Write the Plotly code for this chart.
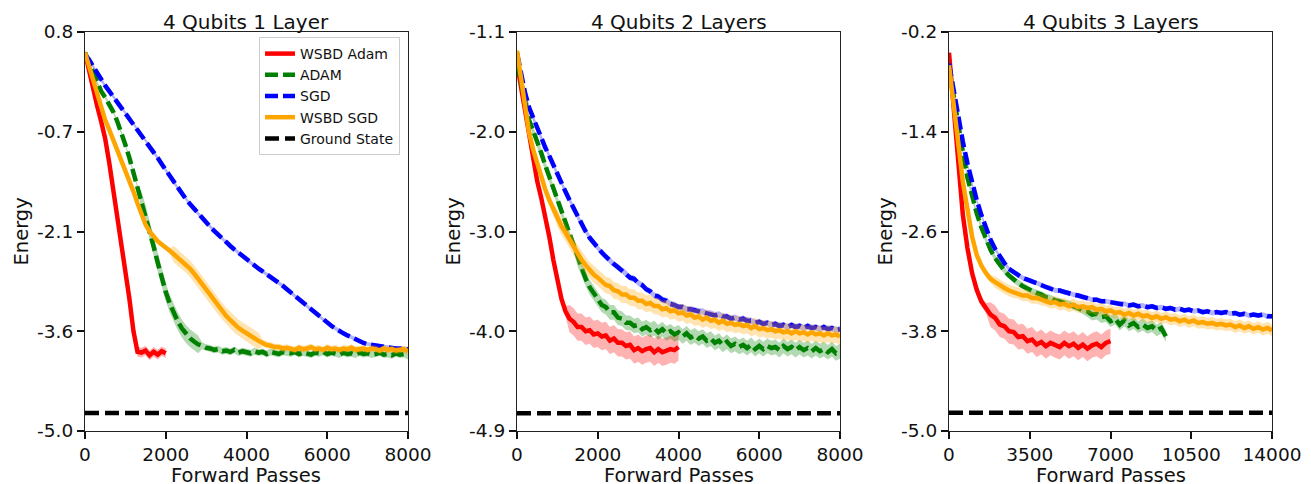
import plotly.graph_objects as go

# ---------------- data ----------------
TITLES = ["4 Qubits 1 Layer", "4 Qubits 2 Layers", "4 Qubits 3 Layers"]
SERIES = ["WSBD Adam", "ADAM", "SGD", "WSBD SGD", "Ground State"]
X_LABEL = "Forward Passes"
Y_LABEL = "Energy"
GROUND = [-4.74, -4.73, -4.78]

X_RANGE = [[0, 8000], [0, 8000], [0, 14000]]
X_TICKS = [[0, 2000, 4000, 6000, 8000], [0, 2000, 4000, 6000, 8000], [0, 3500, 7000, 10500, 14000]]
X_TICKTEXT = [["0", "2000", "4000", "6000", "8000"], ["0", "2000", "4000", "6000", "8000"],
              ["0", "3500", "7000", "10500", "14000"]]
Y_RANGE = [[-5.0, 0.8], [-4.9, -1.1], [-5.0, -0.2]]
Y_TICKS = [[-5.0, -3.55, -2.1, -0.65, 0.8], [-4.9, -3.95, -3.0, -2.05, -1.1], [-5.0, -3.8, -2.6, -1.4, -0.2]]
Y_TICKTEXT = [["-5.0", "-3.6", "-2.1", "-0.7", "0.8"], ["-4.9", "-4.0", "-3.0", "-2.0", "-1.1"],
              ["-5.0", "-3.8", "-2.6", "-1.4", "-0.2"]]

# Panel 1 (sampled every 100 forward passes)
P1_X = list(range(0, 8001, 100))
P1_RED = [0.50, 0.22, -0.02, -0.27, -0.50, -0.75, -1.10, -1.48, -1.85, -2.25, -2.62, -3.08, -3.55,
          -3.85, -3.86, -3.83, -3.90, -3.85, -3.89, -3.84, -3.87]
P1_GREEN = [0.50, 0.35, 0.20, 0.06, -0.06, -0.15, -0.25, -0.36, -0.50, -0.66,
            -0.84, -1.03, -1.24, -1.45, -1.65, -1.85, -2.08, -2.32, -2.55, -2.78,
            -2.98, -3.15, -3.29, -3.41, -3.51, -3.59, -3.65, -3.70, -3.74, -3.76,
            -3.79, -3.80, -3.82, -3.81, -3.84, -3.83, -3.85, -3.82, -3.86, -3.84,
            -3.85, -3.87, -3.84, -3.86, -3.85, -3.88, -3.85, -3.86, -3.88, -3.85,
            -3.86, -3.87, -3.85, -3.88, -3.86, -3.87, -3.89, -3.86, -3.87, -3.85,
            -3.88, -3.86, -3.87, -3.89, -3.86, -3.88, -3.87, -3.89, -3.86, -3.88,
            -3.87, -3.89, -3.88, -3.86, -3.89, -3.88, -3.90, -3.87, -3.89, -3.88, -3.91]
P1_BLUE = [0.47, 0.40, 0.30, 0.20, 0.10, 0.02, -0.06, -0.14, -0.22, -0.30,
           -0.38, -0.46, -0.53, -0.61, -0.69, -0.77, -0.85, -0.94, -1.03, -1.12,
           -1.21, -1.30, -1.39, -1.47, -1.55, -1.63, -1.70, -1.77, -1.84, -1.91,
           -1.97, -2.03, -2.09, -2.15, -2.20, -2.26, -2.31, -2.36, -2.41, -2.46,
           -2.51, -2.55, -2.60, -2.64, -2.68, -2.72, -2.76, -2.80, -2.85, -2.89,
           -2.94, -2.99, -3.03, -3.08, -3.13, -3.18, -3.23, -3.28, -3.33, -3.38,
           -3.43, -3.47, -3.51, -3.55, -3.58, -3.61, -3.64, -3.67, -3.70, -3.72,
           -3.74, -3.75, -3.76, -3.77, -3.78, -3.79, -3.79, -3.80, -3.80, -3.81, -3.81]
P1_ORANGE = [0.50, 0.30, 0.10, -0.12, -0.33, -0.48, -0.62, -0.77, -0.90, -1.04,
             -1.19, -1.35, -1.52, -1.69, -1.86, -2.00, -2.10, -2.18, -2.24, -2.29,
             -2.33, -2.38, -2.43, -2.48, -2.53, -2.58, -2.64, -2.71, -2.79, -2.87,
             -2.95, -3.03, -3.11, -3.19, -3.26, -3.33, -3.39, -3.45, -3.50, -3.54,
             -3.58, -3.62, -3.66, -3.69, -3.72, -3.75, -3.76, -3.78, -3.78, -3.80,
             -3.79, -3.80, -3.82, -3.79, -3.81, -3.80, -3.78, -3.81, -3.80, -3.82,
             -3.79, -3.81, -3.80, -3.82, -3.80, -3.81, -3.79, -3.82, -3.81, -3.80,
             -3.82, -3.80, -3.81, -3.83, -3.80, -3.82, -3.81, -3.83, -3.82, -3.81, -3.84]
P1_RED_BAND = [0.04] * 13 + [0.07] * 8
P1_GREEN_BAND = [0.03] * 14 + [0.13] * 15 + [0.05] * 52
P1_BLUE_BAND = [0.03] * 81
P1_ORANGE_BAND = [0.04] * 22 + [0.12] * 22 + [0.05] * 37

# Panel 2 (sampled every 100 forward passes)
P2_X = list(range(0, 8001, 100))
P2_RED = [-1.40, -1.62, -1.85, -2.12, -2.32, -2.52, -2.68, -2.85, -3.05, -3.27,
          -3.47, -3.64, -3.76, -3.83, -3.86, -3.91, -3.91, -3.95, -3.94, -3.98,
          -3.97, -4.00, -3.99, -4.04, -4.02, -4.06, -4.06, -4.09, -4.08, -4.13,
          -4.11, -4.14, -4.12, -4.11, -4.15, -4.12, -4.15, -4.14, -4.12, -4.13, -4.10]
P2_GREEN = [-1.40, -1.58, -1.78, -1.94, -2.04, -2.14, -2.25, -2.37, -2.48, -2.59,
            -2.70, -2.81, -2.92, -3.04, -3.15, -3.26, -3.36, -3.45, -3.53, -3.59,
            -3.64, -3.70, -3.72, -3.77, -3.77, -3.82, -3.83, -3.87, -3.87, -3.90,
            -3.89, -3.93, -3.91, -3.94, -3.92, -3.96, -3.93, -3.97, -3.95, -3.98,
            -3.96, -4.00, -3.97, -4.01, -3.99, -4.02, -4.00, -4.04, -4.02, -4.06,
            -4.04, -4.08, -4.05, -4.09, -4.07, -4.10, -4.08, -4.11, -4.08, -4.12,
            -4.09, -4.12, -4.09, -4.11, -4.10, -4.13, -4.09, -4.12, -4.10, -4.13,
            -4.10, -4.13, -4.11, -4.14, -4.11, -4.14, -4.12, -4.15, -4.12, -4.16, -4.14]
P2_BLUE = [-1.30, -1.50, -1.68, -1.82, -1.92, -2.02, -2.11, -2.20, -2.28, -2.37,
           -2.45, -2.54, -2.62, -2.70, -2.78, -2.86, -2.93, -3.00, -3.06, -3.11,
           -3.16, -3.20, -3.24, -3.28, -3.31, -3.34, -3.37, -3.40, -3.44, -3.45,
           -3.49, -3.51, -3.55, -3.57, -3.61, -3.62, -3.65, -3.66, -3.69, -3.70,
           -3.72, -3.72, -3.74, -3.74, -3.75, -3.76, -3.76, -3.78, -3.78, -3.80,
           -3.79, -3.81, -3.81, -3.83, -3.82, -3.84, -3.83, -3.85, -3.85, -3.87,
           -3.86, -3.88, -3.87, -3.89, -3.88, -3.90, -3.89, -3.91, -3.89, -3.91,
           -3.90, -3.92, -3.90, -3.92, -3.91, -3.93, -3.91, -3.93, -3.92, -3.94, -3.93]
P2_ORANGE = [-1.28, -1.55, -1.85, -2.06, -2.22, -2.36, -2.48, -2.60, -2.70, -2.79,
             -2.87, -2.95, -3.01, -3.08, -3.15, -3.21, -3.27, -3.32, -3.37, -3.41,
             -3.44, -3.47, -3.51, -3.52, -3.56, -3.57, -3.60, -3.60, -3.63, -3.63,
             -3.66, -3.66, -3.69, -3.68, -3.71, -3.71, -3.74, -3.73, -3.76, -3.75,
             -3.78, -3.77, -3.80, -3.79, -3.82, -3.81, -3.84, -3.82, -3.85, -3.84,
             -3.87, -3.85, -3.88, -3.87, -3.89, -3.88, -3.90, -3.89, -3.92, -3.90,
             -3.93, -3.92, -3.94, -3.93, -3.95, -3.94, -3.96, -3.95, -3.97, -3.95,
             -3.97, -3.96, -3.98, -3.96, -3.98, -3.97, -3.99, -3.97, -3.99, -3.98, -4.00]
P2_RED_BAND = [0.05] * 13 + [0.13] * 28
P2_GREEN_BAND = [0.04] * 15 + [0.07] * 66
P2_BLUE_BAND = [0.03] * 81
P2_ORANGE_BAND = [0.05] * 10 + [0.08] * 71

# Panel 3 (sampled every 200 forward passes)
P3_X = list(range(0, 14001, 200))
P3_RED = [-0.45, -1.15, -1.80, -2.40, -2.80, -3.10, -3.30, -3.44, -3.52, -3.60,
          -3.64, -3.72, -3.74, -3.80, -3.81, -3.87, -3.86, -3.92, -3.90, -3.96,
          -3.93, -3.98, -3.94, -3.97, -3.99, -3.94, -3.98, -3.95, -4.00, -3.96,
          -4.01, -3.97, -3.95, -3.99, -3.94, -3.92]
P3_GREEN = [-0.62, -0.98, -1.30, -1.65, -1.95, -2.18, -2.38, -2.55, -2.70, -2.82,
            -2.92, -3.00, -3.07, -3.13, -3.18, -3.22, -3.26, -3.29, -3.32, -3.34,
            -3.36, -3.39, -3.40, -3.43, -3.44, -3.46, -3.47, -3.50, -3.52, -3.55,
            -3.56, -3.60, -3.59, -3.63, -3.62, -3.68, -3.65, -3.72, -3.67, -3.73,
            -3.70, -3.75, -3.72, -3.76, -3.74, -3.79, -3.76, -3.86]
P3_BLUE = [-0.58, -0.90, -1.22, -1.52, -1.78, -2.02, -2.22, -2.40, -2.56, -2.70,
           -2.81, -2.90, -2.98, -3.05, -3.09, -3.13, -3.16, -3.18, -3.20, -3.22,
           -3.24, -3.27, -3.28, -3.31, -3.31, -3.33, -3.34, -3.36, -3.37, -3.39,
           -3.40, -3.42, -3.42, -3.44, -3.44, -3.45, -3.46, -3.47, -3.47, -3.49,
           -3.48, -3.50, -3.49, -3.51, -3.50, -3.52, -3.51, -3.53, -3.52, -3.54,
           -3.53, -3.55, -3.54, -3.56, -3.55, -3.57, -3.56, -3.58, -3.57, -3.58,
           -3.57, -3.59, -3.58, -3.60, -3.59, -3.61, -3.60, -3.61, -3.60, -3.62, -3.62]
P3_ORANGE = [-0.60, -1.10, -1.58, -2.00, -2.33, -2.66, -2.88, -3.01, -3.10, -3.17,
             -3.21, -3.25, -3.28, -3.31, -3.33, -3.34, -3.37, -3.37, -3.40, -3.40,
             -3.42, -3.43, -3.46, -3.45, -3.48, -3.47, -3.50, -3.48, -3.51, -3.50,
             -3.52, -3.51, -3.54, -3.53, -3.56, -3.55, -3.58, -3.57, -3.60, -3.58,
             -3.61, -3.59, -3.62, -3.61, -3.64, -3.62, -3.65, -3.63, -3.66, -3.65,
             -3.68, -3.66, -3.69, -3.67, -3.70, -3.69, -3.71, -3.70, -3.72, -3.71,
             -3.73, -3.72, -3.75, -3.73, -3.76, -3.74, -3.77, -3.75, -3.78, -3.76, -3.79]
P3_RED_BAND = [0.06] * 9 + [0.15] * 27
P3_GREEN_BAND = [0.04] * 30 + [0.07] * 18
P3_BLUE_BAND = [0.03] * 71
P3_ORANGE_BAND = [0.05] * 10 + [0.07] * 61

PANELS = [
    (P1_X, [(P1_RED, P1_RED_BAND), (P1_GREEN, P1_GREEN_BAND), (P1_BLUE, P1_BLUE_BAND), (P1_ORANGE, P1_ORANGE_BAND)]),
    (P2_X, [(P2_RED, P2_RED_BAND), (P2_GREEN, P2_GREEN_BAND), (P2_BLUE, P2_BLUE_BAND), (P2_ORANGE, P2_ORANGE_BAND)]),
    (P3_X, [(P3_RED, P3_RED_BAND), (P3_GREEN, P3_GREEN_BAND), (P3_BLUE, P3_BLUE_BAND), (P3_ORANGE, P3_ORANGE_BAND)]),
]

# ---------------- styles ----------------
COLORS = ["#ff0000", "#008000", "#0000ff", "#ffa500", "#000000"]
BAND_COLORS = ["rgba(255,0,0,0.3)", "rgba(0,128,0,0.3)", "rgba(0,0,255,0.3)", "rgba(255,165,0,0.3)"]
DASHES = ["solid", "13px,5px", "13px,5px", "solid", "14px,6px"]
FONT = "DejaVu Sans"
OFF = 8                       # page body margin of the written html
W, H = 1311 - OFF, 484 - OFF  # figure size so that it fills the window
X_PIX = [[85 - OFF, 408 - OFF], [517 - OFF, 840 - OFF], [949 - OFF, 1272 - OFF]]
TOP_PIX, BOT_PIX = 32 - OFF, 431 - OFF
X_DOMAINS = [[a / W, b / W] for a, b in X_PIX]
Y_DOMAIN = [(H - BOT_PIX) / H, (H - TOP_PIX) / H]

fig = go.Figure()
for p, (xs_all, series) in enumerate(PANELS):
    xa = "x" if p == 0 else f"x{p + 1}"
    ya = "y" if p == 0 else f"y{p + 1}"
    for s, (ys, band) in enumerate(series):
        xs = xs_all[:len(ys)]
        upper = [v + b for v, b in zip(ys, band)]
        lower = [v - b for v, b in zip(ys, band)]
        fig.add_trace(go.Scatter(
            x=xs + xs[::-1], y=upper + lower[::-1], fill="toself",
            fillcolor=BAND_COLORS[s], line=dict(width=0), mode="lines",
            hoverinfo="skip", showlegend=False, xaxis=xa, yaxis=ya))
        fig.add_trace(go.Scatter(
            x=xs, y=ys, mode="lines", name=SERIES[s],
            line=dict(color=COLORS[s], width=4.5, dash=DASHES[s]),
            showlegend=(p == 0), legendrank=s + 1, xaxis=xa, yaxis=ya))
    fig.add_trace(go.Scatter(
        x=X_RANGE[p], y=[GROUND[p], GROUND[p]], mode="lines", name=SERIES[4],
        line=dict(color=COLORS[4], width=4.5, dash=DASHES[4]),
        showlegend=(p == 0), legendrank=5, xaxis=xa, yaxis=ya))

axis_common = dict(showline=True, mirror=True, linecolor="#222222", linewidth=1.2,
                   ticks="outside", ticklen=7, tickwidth=1.6, tickcolor="#111111",
                   showgrid=False, zeroline=False, automargin=False,
                   tickfont=dict(family=FONT, size=18.5, color="#111111"))
annotations = []
for p in range(3):
    cx = sum(X_DOMAINS[p]) / 2
    annotations.append(dict(text=TITLES[p], x=cx, y=1, xref="paper", yref="paper",
                            xanchor="center", yanchor="top", showarrow=False,
                            font=dict(family=FONT, size=20, color="#111111")))
    annotations.append(dict(text=X_LABEL, x=cx, y=0, xref="paper", yref="paper",
                            xanchor="center", yanchor="bottom", yshift=-5, showarrow=False,
                            font=dict(family=FONT, size=19.5, color="#111111")))
    annotations.append(dict(text=Y_LABEL, x=(X_PIX[p][0] - 64) / W, y=sum(Y_DOMAIN) / 2,
                            xref="paper", yref="paper", xanchor="center", yanchor="middle",
                            textangle=-90, showarrow=False,
                            font=dict(family=FONT, size=19.5, color="#111111")))

layout = dict(width=W, height=H, margin=dict(l=0, r=0, t=0, b=0),
              paper_bgcolor="white", plot_bgcolor="white",
              font=dict(family=FONT, color="#111111"),
              legend=dict(x=(400 - OFF) / W, xanchor="right", y=(H - (37 - OFF)) / H, yanchor="top",
                          bgcolor="rgba(255,255,255,0.85)", bordercolor="#cccccc", borderwidth=1,
                          font=dict(family=FONT, size=14, color="#111111"),
                          tracegroupgap=0, itemwidth=30),
              annotations=annotations, showlegend=True)
for p in range(3):
    sx = "" if p == 0 else str(p + 1)
    layout["xaxis" + sx] = dict(axis_common, domain=X_DOMAINS[p], anchor="y" + sx,
                                range=X_RANGE[p], tickvals=X_TICKS[p], ticktext=X_TICKTEXT[p])
    layout["yaxis" + sx] = dict(axis_common, domain=Y_DOMAIN, anchor="x" + sx,
                                range=Y_RANGE[p], tickvals=Y_TICKS[p], ticktext=Y_TICKTEXT[p])

fig.update_layout(**layout)
fig.write_html("out.html")
